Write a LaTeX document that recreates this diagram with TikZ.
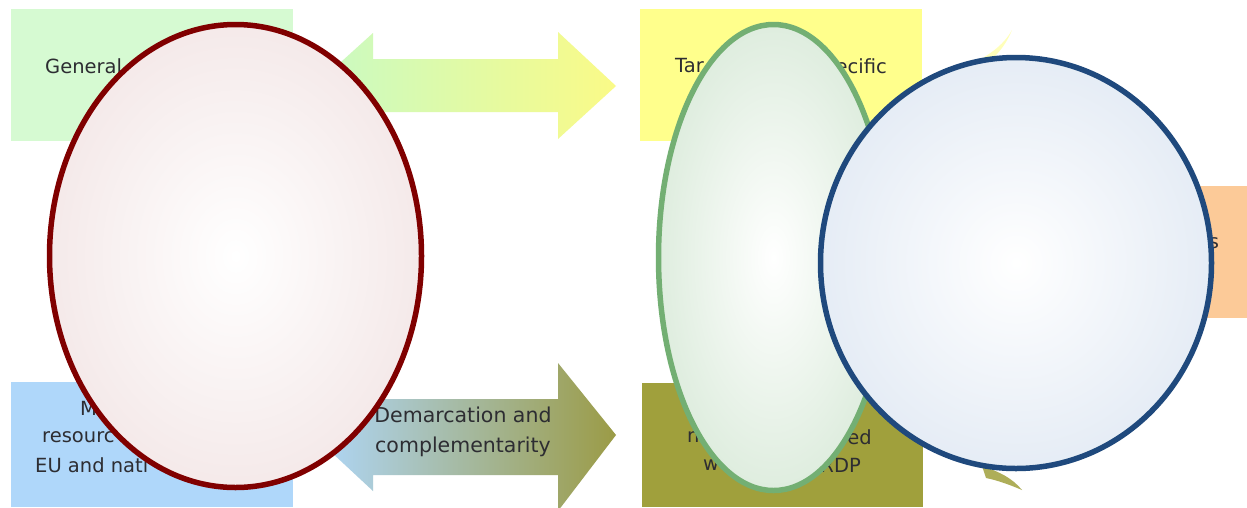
\documentclass[tikz,border=0pt]{standalone}
\usepackage{fontspec}
\setmainfont{DejaVu Sans}
\usetikzlibrary{shapes.geometric}
\definecolor{boxgreen}{RGB}{214,250,210}
\definecolor{boxyellow}{RGB}{255,255,140}
\definecolor{boxorange}{RGB}{252,202,152}
\definecolor{boxblue}{RGB}{175,215,250}
\definecolor{boxolive}{RGB}{160,160,60}
\definecolor{arrgreen}{RGB}{200,250,196}
\definecolor{arryellow}{RGB}{250,250,135}
\definecolor{arrblue}{RGB}{175,215,250}
\definecolor{arrolive}{RGB}{155,155,70}
\definecolor{txt}{RGB}{45,45,50}
\definecolor{redline}{RGB}{128,0,0}
\definecolor{greenline}{RGB}{115,175,115}
\definecolor{blueline}{RGB}{31,73,125}
\pgfdeclareradialshading{redball}{\pgfpoint{0bp}{0bp}}{rgb(0bp)=(1,1,1); rgb(36bp)=(0.941,0.878,0.878); rgb(50bp)=(0.941,0.878,0.878)}
\pgfdeclareradialshading{greenball}{\pgfpoint{0bp}{0bp}}{rgb(0bp)=(1,1,1); rgb(36bp)=(0.816,0.898,0.816); rgb(50bp)=(0.816,0.898,0.816)}
\pgfdeclareradialshading{blueball}{\pgfpoint{0bp}{0bp}}{rgb(0bp)=(1,1,1); rgb(36bp)=(0.855,0.894,0.945); rgb(50bp)=(0.855,0.894,0.945)}
\tikzset{
  boxtext/.style={text=txt, font=\fontsize{19.5}{24}\selectfont, inner sep=0pt},
  bubble/.style={ellipse, line width=5.5pt},
}
\begin{document}
\begin{tikzpicture}[x=1pt,y=-1pt]
\useasboundingbox (0,0) rectangle (1247,507);
\clip (0,0) rectangle (1247,507);
\fill[white] (0,0) rectangle (1247,507);
% boxes
\fill[boxgreen] (11,9) rectangle (293,141);
\fill[boxyellow] (640,9) rectangle (922,141);
\fill[boxorange] (1200,186) rectangle (1247,318);
\fill[boxblue] (11,382) rectangle (293,507);
\fill[boxolive] (642,383) rectangle (923,507);
% double arrows
\shade[left color=arrgreen, right color=arryellow]
  (315,85.5) -- (373,33) -- (373,59) -- (558,59) -- (558,32) -- (616,86)
  -- (558,139) -- (558,112) -- (373,112) -- (373,138) -- cycle;
\shade[left color=arrblue, right color=arrolive]
  (315,437) -- (373,383) -- (373,399) -- (558,399) -- (558,363) -- (616,435)
  -- (558,511) -- (558,475) -- (373,475) -- (373,491) -- cycle;
% curved arrow slivers
\fill[boxyellow, opacity=0.6] (968,66) .. controls (988,56) and (1003,46) .. (1012,30)
  .. controls (1004,50) and (990,62) .. (976,72) -- cycle;
\fill[boxolive!85!white] (982,466) .. controls (1000,472) and (1012,478) .. (1022,490)
  .. controls (1008,484) and (996,480) .. (986,478) -- cycle;
% texts
\node[boxtext, anchor=west] (t1) at (45,66) {General};
\node[boxtext, anchor=west] (t2) at (675,66) {Tar};
\node[boxtext, anchor=east] (t3) at (887,66) {ecific};
\node[boxtext, anchor=center] (t4) at (1214,243) {s};
\node[boxtext, anchor=west] (t5) at (80,408) {M};
\node[boxtext, anchor=west] (t6) at (42,437) {resourc};
\node[boxtext, anchor=west] (t7) at (35,465) {EU and nati};
\node[boxtext, align=center, font=\fontsize{20.5}{30}\selectfont] (t8) at (463,432) {Demarcation and\\complementarity};
\node[boxtext, anchor=west] (t9) at (687,437) {n};
\node[boxtext, anchor=east] (t10) at (872,437) {ed};
\node[boxtext, anchor=west] (t11) at (703,465) {w};
\node[boxtext, anchor=east] (t12) at (861,465) {RDP};
% bubbles
\node[bubble, draw=redline, shading=redball, minimum width=372pt, minimum height=463pt] (e1) at (235.5,256) {};
\node[bubble, draw=greenline, shading=greenball, minimum width=230pt, minimum height=466pt] (e2) at (773.5,257.5) {};
\node[bubble, draw=blueline, shading=blueball, minimum width=391pt, minimum height=411pt] (e3) at (1016,263) {};
\end{tikzpicture}
\end{document}
